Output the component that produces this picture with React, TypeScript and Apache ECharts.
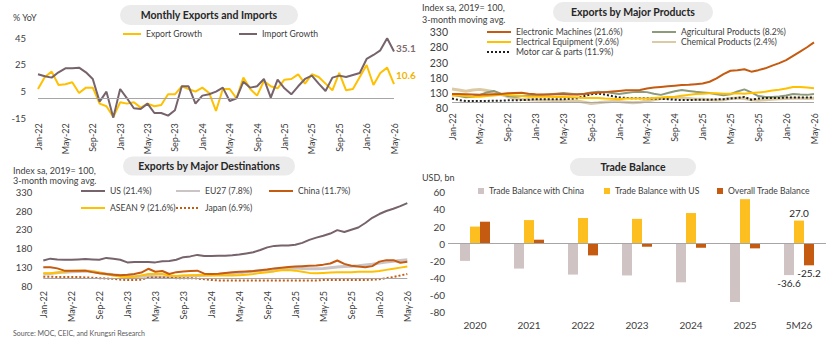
import React, { useEffect, useRef } from "react";
import * as echarts from "echarts";

const MONTH_NAMES = ["Jan", "Feb", "Mar", "Apr", "May", "Jun", "Jul", "Aug", "Sep", "Oct", "Nov", "Dec"];
const months: string[] = [];
for (let y = 22; y <= 26; y++) {
  for (let m = 0; m < 12; m++) {
    if (y === 26 && m > 4) break;
    months.push(`${MONTH_NAMES[m]}-${y}`);
  }
}

// Monthly Exports and Imports (% YoY)
const exportGrowth = [7, 16, 20, 10, 10.5, 12, 4, 8, 8, -4, -6, -14, -3, -4, -3, -7, -4, -6, -5, 3, 3, 9, 7, 5, 8, 4, -9.5, 7, 7, 0, 15.5, 7, 2, 13, 9, 7.5, 14, 14.5, 18, 11, 18, 16, 11, 6, 19, 6, 7, 16, 25, 10, 19, 23, 10.6];
const importGrowth = [18, 16.5, 15.5, 19.5, 22.5, 22.5, 23, 19.5, 14.5, -2.5, 5, -14.5, 7, 0, -7.5, -8, -4, -11, -11, -13, -9, 9, 9, -4, 2, 3, 5, 8, -2, 0, 12.5, 8, 9, 14.5, 0.5, 14, 7.5, 3, 9, 14.5, 17, 11, 5.5, 15.5, 17, 16, 17.5, 19, 29.5, 32.5, 36, 45, 35.1];

// Exports by Major Products (index)
const electronicMachines = [127, 127, 126, 125, 124, 125, 126, 127, 129, 130, 131, 128, 126, 125, 125, 126, 126, 125, 125, 127, 129, 131, 133, 135, 137, 139, 139, 140, 145, 148, 150, 152, 154, 156, 157, 159, 161, 167, 178, 192, 203, 205, 208, 200, 205, 211, 220, 228, 238, 252, 266, 280, 296];
const agriculturalProducts = [124, 120, 116, 118, 124, 132, 137, 128, 120, 118, 120, 122, 123, 124, 126, 128, 130, 128, 126, 128, 132, 134, 133, 130, 127, 130, 133, 134, 133, 128, 124, 130, 136, 140, 137, 134, 132, 130, 126, 123, 126, 135, 142, 132, 120, 117, 117, 119, 122, 127, 125, 124, 127];
const electricalEquipment = [122, 122, 120, 118, 118, 120, 122, 124, 124, 122, 120, 118, 118, 118, 118, 117, 117, 116, 115, 114, 114, 114, 112, 111, 110, 112, 112, 112, 112, 114, 115, 117, 118, 121, 124, 127, 128, 129, 129, 128, 128, 129, 128, 130, 132, 134, 138, 141, 145, 150, 150, 148, 146];
const chemicalProducts = [143, 140, 136, 140, 142, 138, 134, 126, 118, 113, 110, 108, 107, 106, 106, 105, 105, 104, 104, 100, 96, 98, 101, 102, 102, 100, 98, 100, 104, 108, 112, 114, 115, 114, 112, 110, 110, 108, 107, 108, 112, 114, 112, 108, 106, 108, 110, 111, 112, 113, 113, 112, 113];
const motorCarParts = [112, 107, 104, 104, 104, 104, 105, 105, 106, 106, 107, 108, 110, 110, 110, 110, 110, 111, 113, 120, 126, 128, 125, 120, 116, 114, 113, 113, 113, 112, 111, 110, 108, 107, 107, 108, 108, 108, 109, 110, 112, 114, 117, 108, 112, 114, 114, 114, 115, 115, 115, 115, 115];

// Exports by Major Destinations (index)
const destUS = [148, 153, 151, 150, 150, 151, 152, 151, 150, 155, 153, 150, 143, 144, 144, 144, 143, 146, 147, 150, 157, 159, 163, 160, 160, 161, 161, 162, 164, 167, 170, 176, 183, 187, 188, 188, 190, 195, 203, 209, 214, 220, 229, 224, 230, 236, 248, 262, 272, 280, 286, 293, 301];
const destEU27 = [112, 113, 115, 117, 118, 119, 120, 119, 115, 112, 110, 108, 106, 105, 106, 106, 105, 104, 104, 105, 106, 107, 108, 109, 110, 111, 112, 113, 115, 117, 119, 121, 123, 125, 126, 127, 128, 127, 126, 126, 127, 129, 131, 132, 133, 134, 136, 138, 141, 144, 146, 148, 150];
const destChina = [130, 130, 127, 121, 121, 121, 121, 117, 114, 112, 110, 109, 110, 112, 116, 126, 118, 120, 112, 117, 119, 120, 121, 113, 112, 113, 115, 117, 118, 119, 120, 122, 124, 127, 129, 131, 132, 133, 134, 135, 137, 140, 148, 139, 134, 132, 130, 133, 145, 149, 149, 142, 145];
const destASEAN9 = [114, 114, 116, 118, 120, 121, 121, 119, 116, 112, 108, 105, 105, 105, 108, 112, 112, 112, 108, 107, 108, 109, 109, 109, 108, 108, 108, 108, 109, 110, 112, 115, 117, 119, 122, 123, 121, 118, 115, 114, 115, 116, 117, 117, 117, 118, 118, 118, 120, 123, 126, 129, 132];
const destJapan = [105, 105, 104, 104, 104, 104, 103, 102, 101, 100, 99, 97, 96, 96, 97, 102, 103, 103, 102, 101, 101, 101, 100, 98, 96, 95, 95, 95, 95, 95, 95, 95, 95, 95, 95, 95, 95, 95, 95, 95, 96, 96, 96, 96, 96, 96, 96, 97, 98, 101, 104, 108, 112];

// Trade Balance (USD bn)
const tbYears = ["2020", "2021", "2022", "2023", "2024", "2025", "5M26"];
const tbChina = [-20, -29, -36, -37, -45, -68, -36.6];
const tbUS = [20, 27.6, 30, 29, 35.8, 52, 27.0];
const tbOverall = [25.7, 4.7, -13.6, -3.5, -4.7, -5.4, -25.2];

const FONT = "Lato, 'Noto Sans', sans-serif";
const TXT = "#404040";
const BASE = "#a6a6a6";
const ORANGE = "#c55a11";
const GOLD = "#ffc000";
const MAUVE = "#76636b";

function lineX(gridIndex: number) {
  return {
    type: "category",
    gridIndex,
    data: months,
    boundaryGap: false,
    axisLine: { show: false },
    axisTick: { show: false },
    axisLabel: { interval: 3, rotate: 90, fontSize: 9, color: TXT, margin: 5, fontFamily: FONT },
  };
}

function leg(name: string, left: number, top: number, w = 24, h = 10) {
  return {
    data: [name],
    left,
    top,
    orient: "horizontal",
    itemWidth: w,
    itemHeight: h,
    padding: 0,
    selectedMode: false,
    itemStyle: { opacity: 0 },
    textStyle: { fontSize: 8.6, color: TXT, lineHeight: 10, fontFamily: FONT },
  };
}

function barLeg(name: string, left: number, top: number) {
  return { ...leg(name, left, top, 6, 6), icon: "rect", itemStyle: { opacity: 1 } };
}

function pill(cx: number, cy: number, w: number, h: number, text: string) {
  return [
    { type: "rect", shape: { x: cx - w / 2, y: cy - h / 2, width: w, height: h, r: h / 2 }, style: { fill: "#ebebeb" }, silent: true },
    { type: "text", x: cx, y: cy, style: { text, fill: "#262626", font: `bold 10.5px ${FONT}`, align: "center", verticalAlign: "middle" }, silent: true },
  ];
}

function txt(x: number, y: number, text: string, size = 9, color = TXT) {
  return { type: "text", x, y, style: { text, fill: color, font: `${size}px ${FONT}`, align: "left", verticalAlign: "middle" }, silent: true };
}

function baseLine(v: number) {
  return { silent: true, symbol: "none", label: { show: false }, lineStyle: { color: BASE, width: 1, type: "solid" }, data: [{ yAxis: v }] };
}

function ls(name: string, xi: number, data: number[], color: string, width: number, type = "solid", extra: any = {}) {
  return {
    name, type: "line", xAxisIndex: xi, yAxisIndex: xi, data, showSymbol: false, symbol: "none",
    lineStyle: { color, width, type }, itemStyle: { color }, ...extra,
  };
}

function lastLabel(data: number[], pos: string, fmt = (v: number) => v.toFixed(1)) {
  return data.map((v, i) => (i === data.length - 1 ? { value: v, label: { show: true, position: pos, distance: 3, formatter: () => fmt(v), color: "#262626", fontSize: 10, fontFamily: FONT } } : v));
}

export default function App() {
  const ref = useRef<HTMLDivElement>(null);
  useEffect(() => {
    document.body.style.margin = "0";
    const chart = echarts.init(ref.current!, null, { renderer: "svg" });
    const option: any = {
      animation: false,
      backgroundColor: "#ffffff",
      textStyle: { fontFamily: FONT },
      grid: [
        { left: 38, top: 38.3, width: 356, height: 80 },
        { left: 452, top: 32, width: 362, height: 76.3 },
        { left: 43.3, top: 192.3, width: 364, height: 93.7 },
        { left: 448, top: 192.3, width: 378, height: 120 },
      ],
      xAxis: [
        lineX(0),
        lineX(1),
        lineX(2),
        {
          type: "category", gridIndex: 3, data: tbYears, boundaryGap: true,
          axisLine: { show: false }, axisTick: { show: false },
          axisLabel: { fontSize: 10, color: TXT, margin: 8, fontFamily: FONT },
        },
      ],
      yAxis: [
        { type: "value", gridIndex: 0, min: -15, max: 45, interval: 20, splitLine: { show: false }, axisLine: { show: false }, axisTick: { show: false }, axisLabel: { fontSize: 9.5, color: TXT, margin: 12, fontFamily: FONT } },
        { type: "value", gridIndex: 1, min: 80, max: 330, interval: 50, splitLine: { show: false }, axisLine: { show: false }, axisTick: { show: false }, axisLabel: { fontSize: 10.5, color: TXT, margin: 4, fontFamily: FONT } },
        { type: "value", gridIndex: 2, min: 80, max: 330, interval: 50, splitLine: { show: false }, axisLine: { show: false }, axisTick: { show: false }, axisLabel: { fontSize: 9.5, color: TXT, margin: 11, fontFamily: FONT } },
        { type: "value", gridIndex: 3, min: -80, max: 60, interval: 20, splitLine: { show: false }, axisLine: { show: false }, axisTick: { show: false }, axisLabel: { fontSize: 10, color: TXT, margin: 3, fontFamily: FONT } },
      ],
      legend: [
        leg("Export Growth", 122, 29, 18),
        leg("Import Growth", 238, 29, 18),
        leg("Electronic Machines (21.6%)", 486, 27),
        leg("Agricultural Products (8.2%)", 651, 27),
        leg("Electrical Equipment (9.6%)", 486, 37),
        leg("Chemical Products (2.4%)", 651, 37),
        leg("Motor car & parts (11.9%)", 486, 47),
        leg("US (21.4%)", 80, 186),
        leg("EU27 (7.8%)", 175, 186),
        leg("China (11.7%)", 268, 186),
        leg("ASEAN 9 (21.6%)", 80, 203),
        leg("Japan (6.9%)", 175, 203),
        barLeg("Trade Balance with China", 478, 186),
        barLeg("Trade Balance with US", 604, 186),
        barLeg("Overall Trade Balance", 717, 186),
      ],
      graphic: [
        ...pill(209, 15, 178, 20, "Monthly Exports and Imports"),
        ...pill(633, 12, 160, 20, "Exports by Major Products"),
        ...pill(209, 166, 172, 19, "Exports by Major Destinations"),
        ...pill(633, 167, 126, 18, "Trade Balance"),
        txt(13, 17.5, "% YoY", 9),
        txt(422, 7, "Index sa, 2019= 100,", 9),
        txt(422, 19, "3-month moving avg.", 9),
        txt(13, 170, "Index sa, 2019= 100,", 9),
        txt(13, 180.5, "3-month moving avg.", 9),
        txt(422, 177, "USD, bn", 9),
        txt(13, 333, "Source: MOC, CEIC, and Krungsri Research", 7, "#595959"),
      ],
      series: [
        // Chart 1
        ls("Export Growth", 0, exportGrowth, GOLD, 2, "solid", {
          markLine: baseLine(0),
          endLabel: { show: true, formatter: (p: any) => Number(p.value).toFixed(1), color: "#f0b400", fontWeight: "bold", fontSize: 10, distance: 2, offset: [0, -9], fontFamily: FONT },
        }),
        ls("Import Growth", 0, importGrowth, MAUVE, 2, "solid", {
          endLabel: { show: true, formatter: (p: any) => Number(p.value).toFixed(1), color: "#7f6b73", fontWeight: "bold", fontSize: 10, distance: 2, offset: [0, -4], fontFamily: FONT },
        }),
        // Chart 2
        ls("Chemical Products (2.4%)", 1, chemicalProducts, "#dccaa4", 3, "solid", { markLine: baseLine(100) }),
        ls("Agricultural Products (8.2%)", 1, agriculturalProducts, "#8e9b7b", 2),
        ls("Motor car & parts (11.9%)", 1, motorCarParts, "#1f1f1f", 2, "dotted"),
        ls("Electrical Equipment (9.6%)", 1, electricalEquipment, GOLD, 2),
        ls("Electronic Machines (21.6%)", 1, electronicMachines, ORANGE, 2),
        // Chart 3
        ls("EU27 (7.8%)", 2, destEU27, "#cbc4c4", 3, "solid", { markLine: baseLine(100) }),
        ls("Japan (6.9%)", 2, destJapan, ORANGE, 2, "dotted"),
        ls("ASEAN 9 (21.6%)", 2, destASEAN9, GOLD, 2),
        ls("China (11.7%)", 2, destChina, ORANGE, 2),
        ls("US (21.4%)", 2, destUS, MAUVE, 2),
        // Chart 4
        {
          name: "Trade Balance with China", type: "bar", xAxisIndex: 3, yAxisIndex: 3,
          data: lastLabel(tbChina, "bottom"), barWidth: 10, barGap: "0%",
          itemStyle: { color: "#cfc3c3" }, markLine: baseLine(0),
        },
        {
          name: "Trade Balance with US", type: "bar", xAxisIndex: 3, yAxisIndex: 3,
          data: lastLabel(tbUS, "top"), barWidth: 10, barGap: "0%",
          itemStyle: { color: "#fdbf20" },
        },
        {
          name: "Overall Trade Balance", type: "bar", xAxisIndex: 3, yAxisIndex: 3,
          data: lastLabel(tbOverall, "bottom"), barWidth: 10, barGap: "0%",
          itemStyle: { color: ORANGE },
        },
      ],
    };
    chart.setOption(option);
    return () => chart.dispose();
  }, []);
  return <div ref={ref} style={{ width: 840, height: 345 }} />;
}
